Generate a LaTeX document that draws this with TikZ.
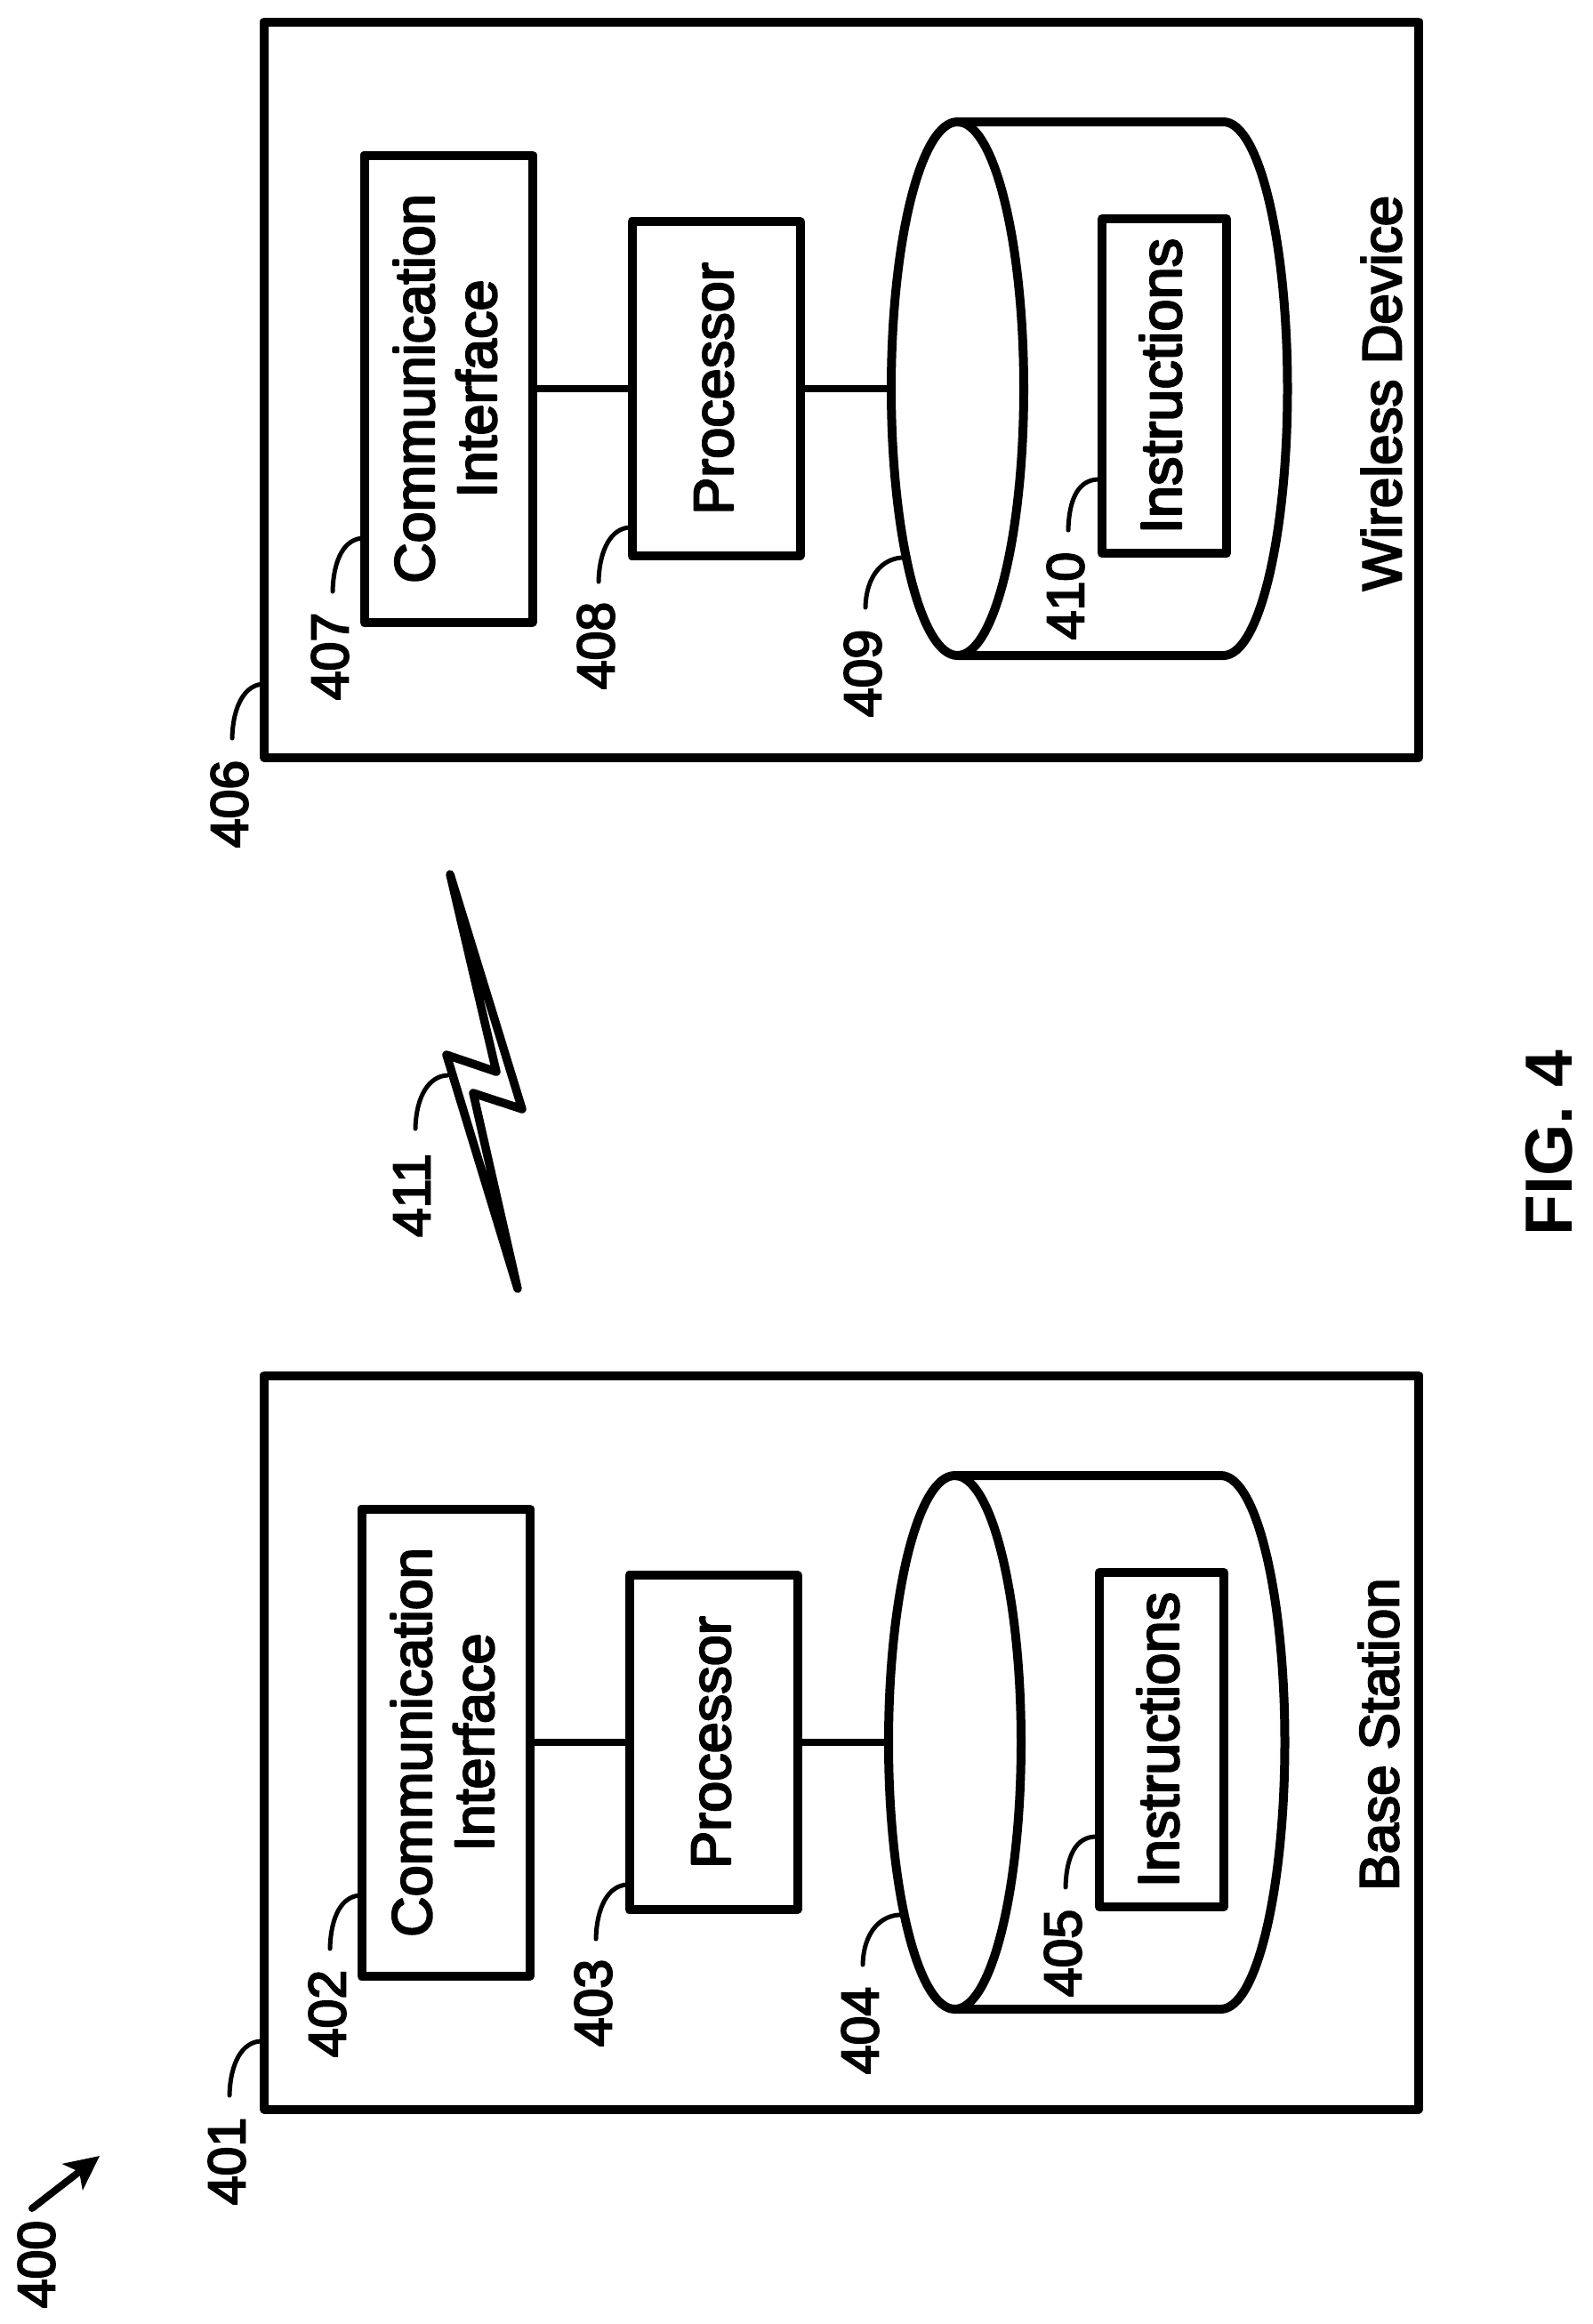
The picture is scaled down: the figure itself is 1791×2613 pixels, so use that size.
\documentclass[tikz,border=0pt]{standalone}
\usepackage{fontspec}
\usetikzlibrary{calc,arrows.meta,shapes.geometric}
\newfontfamily\labfont[FakeBold=3.5]{Liberation Sans}
\newfontfamily\figfont{Liberation Sans Bold}
\newcommand{\lift}[1]{\raisebox{0pt}[\dimexpr\height+10pt\relax][\depth]{\begin{tabular}{@{}c@{}}#1\end{tabular}}}
\tikzset{
  heavy/.style={line width=10pt,line join=round},
  outerbox/.style={heavy,draw,line join=round},
  partbox/.style={draw,heavy,rectangle,rotate=90,inner sep=0pt,outer sep=0pt,align=center,
    font=\labfont\fontsize{63}{70}\selectfont},
  instbox/.style={partbox,minimum width=376pt,minimum height=140pt,font=\labfont\fontsize{65}{70}\selectfont},
  rtext/.style={rotate=90,inner sep=0pt,align=center,font=\labfont\fontsize{59}{70}\selectfont},
  nametext/.style={rtext,font=\labfont\fontsize{62}{70}\selectfont},
  link/.style={line width=8.5pt},
  leader/.style={line width=5pt,line cap=round},
  disk/.style={draw,heavy,ellipse,inner sep=0pt,outer sep=0pt,minimum width=149pt,minimum height=600pt},
}
\newcommand{\leadline}[3]{\coordinate (lf#1) at (#2); \coordinate (lb#1) at (#3);
  \draw[leader] (lf#1) .. controls ($(lf#1)+(1,-38)$) and ($(lb#1)+(-20,1)$) .. (lb#1);}
\newcommand{\diskbody}[1]{%
  \draw[heavy] (#1.north) -- ++(299,0) .. controls +(40,0) and +(0,-166) .. ++(72,300)
     .. controls +(0,166) and +(40,0) .. ++(-72,300) -- (#1.south);}
\begin{document}
\begin{tikzpicture}[x=1pt,y=-1pt]
\useasboundingbox (0,0) rectangle (1791,2613);
% Wireless device
\node[outerbox,rectangle,inner sep=0pt,outer sep=0pt,minimum width=1298pt,minimum height=827pt] (dev406) at (946,438) {};
\node[partbox,minimum width=525pt,minimum height=189pt] (comm407) at (504,437) {\lift{Communication\\Interface}};
\node[partbox,minimum width=376pt,minimum height=189pt] (proc408) at (805,437) {\lift{Processor}};
\node[disk] (disk409) at (1076.5,437) {};
\diskbody{disk409}
\node[instbox] (inst410) at (1309,434) {\lift{Instructions}};
\draw[link] (comm407.south) -- (proc408.north);
\draw[link] (proc408.south) -- (disk409.west);
\node[nametext] (name406) at (1553,442) {Wireless Device};
\node[rtext] (n406) at (258,904) {406};
\node[rtext] (n407) at (371,738) {407};
\node[rtext] (n408) at (670,726) {408};
\node[rtext] (n409) at (970,757) {409};
\node[rtext] (n410) at (1198,670) {410};
\leadline{406}{261,830}{296,769}
\leadline{407}{374,665}{408,605}
\leadline{408}{673,654}{708,593}
\leadline{409}{973,683}{1014,627}
\leadline{410}{1201,596}{1234,539}
% Base station
\node[outerbox,rectangle,inner sep=0pt,outer sep=0pt,minimum width=1298pt,minimum height=825pt] (bs401) at (946,1959) {};
\node[partbox,minimum width=525pt,minimum height=189pt] (comm402) at (501,1959) {\lift{Communication\\Interface}};
\node[partbox,minimum width=376pt,minimum height=189pt] (proc403) at (802,1959) {\lift{Processor}};
\node[disk] (disk404) at (1073.5,1959) {};
\diskbody{disk404}
\node[instbox] (inst405) at (1306,1956) {\lift{Instructions}};
\draw[link] (comm402.south) -- (proc403.north);
\draw[link] (proc403.south) -- (disk404.west);
\node[nametext] (name401) at (1550,1950) {Base Station};
\node[rtext] (n401) at (255,2430) {401};
\node[rtext] (n402) at (368,2264) {402};
\node[rtext] (n403) at (667,2252) {403};
\node[rtext] (n404) at (967,2283) {404};
\node[rtext] (n405) at (1195,2196) {405};
\leadline{401}{258,2356}{293,2295}
\leadline{402}{371,2191}{405,2131}
\leadline{403}{670,2180}{705,2119}
\leadline{404}{970,2209}{1011,2153}
\leadline{405}{1198,2122}{1231,2065}
% Arrow 400
\node[rtext] (n400) at (41,2546) {400};
\coordinate (a400s) at (36,2483);
\coordinate (a400e) at (112,2424);
\draw[line width=8pt,line cap=round,-{Stealth[length=39pt,width=38pt,inset=10pt,line width=0pt]}] (a400s) -- (a400e);
% Wireless link
\coordinate (bT) at (506,983); \coordinate (bA) at (558,1205); \coordinate (bL) at (502,1186);
\coordinate (bB) at (582,1449); \coordinate (bC) at (532,1229); \coordinate (bR) at (587,1247);
\draw[line width=9.5pt,line join=round,fill=white] (bT) -- (bA) -- (bL) -- (bB) -- (bC) -- (bR) -- cycle;
\node[rtext] (n411) at (463,1344) {411};
\leadline{411}{467,1269}{503,1209}
\node[rotate=90,inner sep=0pt,font=\figfont\fontsize{75}{80}\selectfont] (fig) at (1742,1285) {FIG. 4};
\end{tikzpicture}
\end{document}
